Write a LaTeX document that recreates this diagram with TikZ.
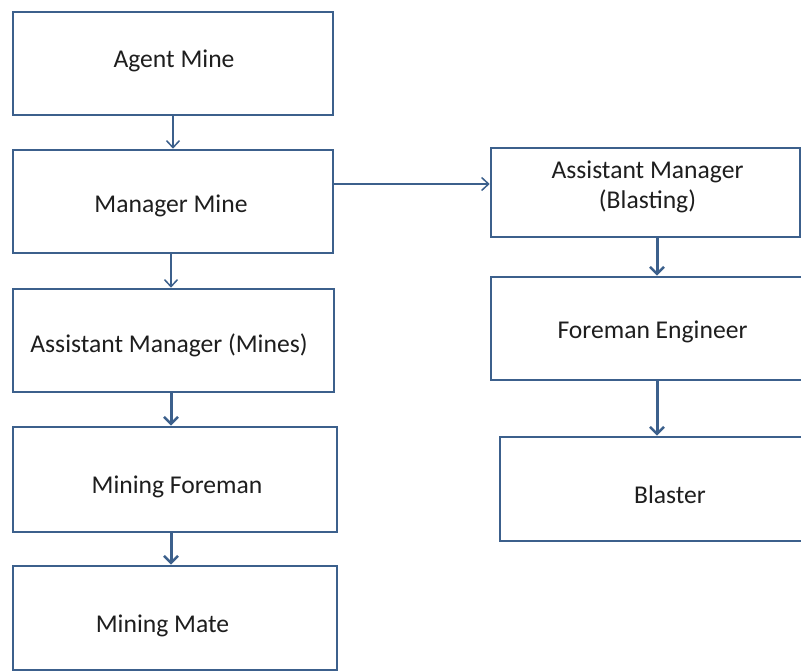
\documentclass[tikz,border=0pt]{standalone}
\usepackage{fontspec}
\setmainfont{Carlito}
\usetikzlibrary{arrows.meta}
\definecolor{frame}{RGB}{60,96,140}
\definecolor{ink}{RGB}{30,30,30}
\tikzset{
  box/.style={draw=frame, line width=2.6bp, fill=white, inner sep=0pt},
  txt/.style={text=ink, anchor=base, inner sep=0pt,
    font=\fontsize{25.6bp}{30bp}\selectfont},
  thinarrow/.style={draw=frame, line width=1.5bp, -{Straight Barb[length=7bp,width=13bp,line width=1.5bp]}},
  thickarrow/.style={draw=frame, line width=3bp, -{Straight Barb[length=7bp,width=14bp,line width=2.6bp]}}
}
\begin{document}
\begin{tikzpicture}[x=1bp,y=-1bp]
  \useasboundingbox (0,0) rectangle (801,672);
  \clip (0,0) rectangle (801,672);
  \fill[white] (0,0) rectangle (801,672);

  % left column
  \node[box, minimum width=320bp, minimum height=103bp] (agent) at (173,63.5) {};
  \node[box, minimum width=320bp, minimum height=103bp] (manager) at (173,201.5) {};
  \node[box, minimum width=321bp, minimum height=103bp] (asstmines) at (173.5,340.5) {};
  \node[box, minimum width=324bp, minimum height=105bp] (foreman) at (175,479.5) {};
  \node[box, minimum width=324bp, minimum height=104bp] (mate) at (175,618) {};

  % right column (runs past the right edge)
  \node[box, minimum width=309bp, minimum height=89bp] (blasting) at (645.5,192.5) {};
  \node[box, minimum width=322bp, minimum height=103bp] (foreeng) at (652,328.5) {};
  \node[box, minimum width=324bp, minimum height=104bp] (blaster) at (662,489) {};

  % labels, set on their baselines
  \node[txt] (tagent) at (174,68) {Agent Mine};
  \node[txt] (tmanager) at (171,212) {Manager Mine};
  \node[txt] (tasstmines) at (169,352) {Assistant Manager (Mines)};
  \node[txt] (tforeman) at (177,493) {Mining Foreman};
  \node[txt] (tmate) at (162.5,632) {Mining Mate};
  \node[txt] (tblasting1) at (647.5,178) {Assistant Manager};
  \node[txt] (tblasting2) at (647.5,208) {(Blasting)};
  \node[txt] (tforeeng) at (652.5,338) {Foreman Engineer};
  \node[txt] (tblaster) at (670,503) {Blaster};

  % connector anchors
  \coordinate (tap) at (333,184);
  \coordinate (colA) at (173,0);
  \coordinate (colB) at (171,0);
  \coordinate (colR) at (657,0);

  \draw[thinarrow] (agent.south -| colA) -- (manager.north -| colA);
  \draw[thinarrow] (manager.south -| colB) -- (asstmines.north -| colB);
  \draw[thinarrow] (tap) -- (tap -| blasting.west);
  \draw[thickarrow] (asstmines.south -| colB) -- (foreman.north -| colB);
  \draw[thickarrow] (foreman.south -| colB) -- (mate.north -| colB);
  \draw[thickarrow] (blasting.south -| colR) -- (foreeng.north -| colR);
  \draw[thickarrow] (foreeng.south -| colR) -- (blaster.north -| colR);
\end{tikzpicture}
\end{document}
